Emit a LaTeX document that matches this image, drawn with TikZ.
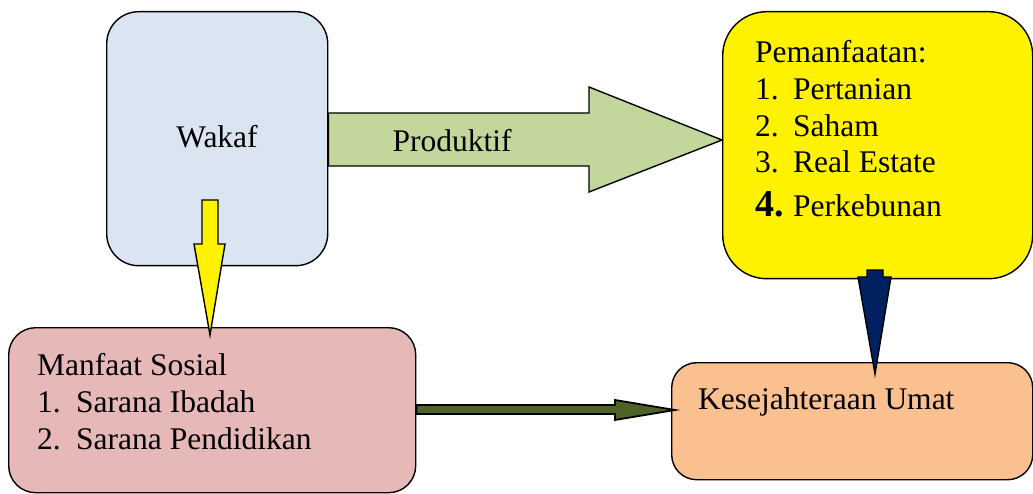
\documentclass[tikz,border=0pt]{standalone}
\usepackage{fontspec}
\setmainfont{Liberation Serif}
\definecolor{wakafblue}{HTML}{DBE5F1}
\definecolor{pinkbox}{HTML}{E6B9B8}
\definecolor{orangebox}{HTML}{FAC090}
\definecolor{lightgreen}{HTML}{C3D69B}
\definecolor{darkgreen}{HTML}{4F6228}
\definecolor{navy}{HTML}{002060}
\begin{document}
\begin{tikzpicture}[x=1pt,y=-1pt,
  box/.style={draw=black,line width=1.4pt,inner sep=0pt,minimum width=#1},
  txt/.style={inner sep=0pt,anchor=base west,font=\fontsize{31.5}{37}\selectfont},
  blockarrow/.style={draw=black,line width=1.4pt,line join=miter}]
\useasboundingbox (0,0) rectangle (1033,494);
% boxes
\node[box=221pt,minimum height=254pt,rounded corners=32pt,fill=wakafblue,anchor=north west] (wakaf) at (106,11) {};
\node[box=310pt,minimum height=267pt,rounded corners=44pt,fill=yellow,anchor=north west] (pem) at (722,11) {};
\node[box=407pt,minimum height=165pt,rounded corners=27pt,fill=pinkbox,anchor=north west] (sosial) at (8,327) {};
\node[box=361pt,minimum height=117pt,rounded corners=25pt,fill=orangebox,anchor=north west] (umat) at (671,362) {};
% texts
\node[txt,anchor=base] (tw) at (217,148) {Wakaf};
\node[txt] (tp0) at (755,63) {Pemanfaatan:};
\node[txt] (tp1) at (755,100) {\makebox[38pt][l]{1.}Pertanian};
\node[txt] (tp2) at (755,137) {\makebox[38pt][l]{2.}Saham};
\node[txt] (tp3) at (755,173) {\makebox[38pt][l]{3.}Real Estate};
\node[txt] (tp4) at (755,217) {\makebox[38pt][l]{\fontsize{38}{40}\selectfont\bfseries 4.}Perkebunan};
\node[txt] (ts0) at (37,375) {Manfaat Sosial};
\node[txt] (ts1) at (37,412) {\makebox[39pt][l]{1.}Sarana Ibadah};
\node[txt] (ts2) at (37,449) {\makebox[39pt][l]{2.}Sarana Pendidikan};
\node[txt] (tu) at (698,409) {Kesejahteraan Umat};
% big arrow Wakaf -> Pemanfaatan
\draw[blockarrow,fill=lightgreen] (wakaf.east |- 0,113) -- (589,113) -- (589,87) -- (pem.west |- 0,140) -- (589,192) -- (589,166) -- (wakaf.east |- 0,166) -- cycle;
\node[txt,anchor=base] (prod) at (452,152) {Produktif};
% yellow arrow Wakaf -> Sosial
\draw[blockarrow,fill=yellow] (202,200) -- (218,200) -- (218,244) -- (225,244) -- (210,335) -- (194,244) -- (202,244) -- cycle;
% navy arrow Pemanfaatan -> Umat
\draw[blockarrow,fill=navy] (867,270) -- (883,270) -- (883,277) -- (891,277) -- (875,374) -- (858,277) -- (867,277) -- cycle;
% dark green arrow Sosial -> Umat
\draw[blockarrow,fill=darkgreen,line width=1.8pt] (sosial.east |- 0,405) -- (615,405) -- (615,400) -- (675,410) -- (615,420) -- (615,414) -- (sosial.east |- 0,414) -- cycle;
\end{tikzpicture}
\end{document}
